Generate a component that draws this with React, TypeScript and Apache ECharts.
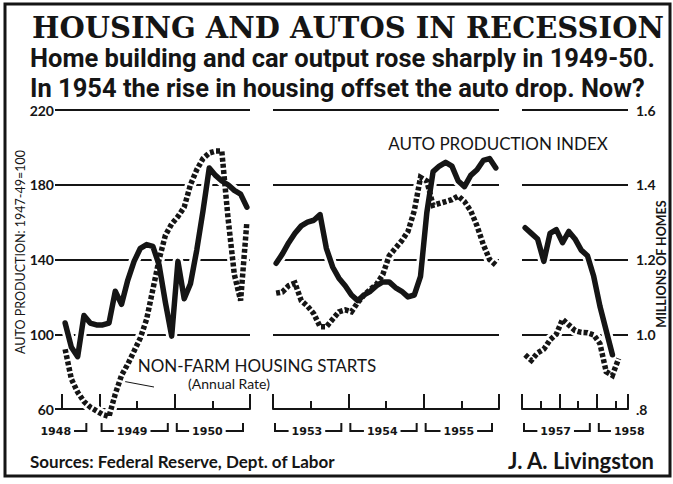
import React, { useEffect, useRef } from "react";
import * as echarts from "echarts";

// ---------- DATA ----------
// Panel 1: monthly, Jul 1948 – Dec 1950
const autoP1 = [106, 93, 88, 110, 106, 105, 105, 106, 123, 116, 129, 139, 146, 148, 147, 137, 117, 99, 139, 119, 127, 145, 166, 189, 185, 182, 180, 177, 175, 168];
const housingP1 = [0.96, 0.88, 0.845, 0.82, 0.805, 0.795, 0.785, 0.78, 0.84, 0.89, 0.92, 0.955, 0.99, 1.04, 1.12, 1.2, 1.265, 1.295, 1.315, 1.34, 1.4, 1.44, 1.47, 1.485, 1.49, 1.49, 1.31, 1.16, 1.09, 1.3];
// Panel 2: monthly, Jan 1953 – Dec 1955
const autoP2 = [138, 143, 149, 154, 158, 160, 161, 164, 146, 136, 130, 126, 121, 118, 121, 123, 126, 128, 128, 125, 123, 120, 121, 131, 165, 187, 190, 192, 190, 182, 179, 185, 188, 193, 194, 189];
const housingP2 = [1.11, 1.113, 1.13, 1.137, 1.09, 1.075, 1.055, 1.02, 1.02, 1.04, 1.06, 1.065, 1.06, 1.085, 1.105, 1.12, 1.134, 1.16, 1.21, 1.23, 1.25, 1.275, 1.33, 1.42, 1.41, 1.345, 1.35, 1.355, 1.36, 1.37, 1.355, 1.33, 1.29, 1.24, 1.2, 1.185];
// Panel 3: monthly, Jan 1957 – early 1958
const autoP3 = [157, 154, 151, 139, 154, 156, 149, 155, 151, 145, 142, 131, 115, 102, 89];
const housingP3 = [0.945, 0.93, 0.95, 0.96, 0.985, 1.0, 1.04, 1.025, 1.01, 1.005, 1.004, 0.998, 0.975, 0.9, 0.89, 0.935];

const monthsP1 = 30;
const monthsP2 = 36;
const monthsP3 = 17;

const yearsP1 = ["1948", "1949", "1950"];
const yearsP2 = ["1953", "1954", "1955"];
const yearsP3 = ["1957", "1958"];

const autoAxis = { min: 60, max: 220, interval: 40 };
const homesAxis = { min: 0.8, max: 1.6, interval: 0.2 };

const titleText = "HOUSING AND AUTOS IN RECESSION";
const subtitle1 = "Home building and car output rose sharply in 1949-50.";
const subtitle2 = "In 1954 the rise in housing offset the auto drop. Now?";
const autoSeriesLabel = "AUTO PRODUCTION INDEX";
const housingSeriesLabel = "NON-FARM HOUSING STARTS";
const housingSeriesNote = "(Annual Rate)";
const leftAxisName = "AUTO PRODUCTION: 1947-49=100";
const rightAxisName = "MILLIONS OF HOMES";
const sourceText = "Sources: Federal Reserve, Dept. of Labor";
const bylineText = "J. A. Livingston";

// ---------- STYLE / LAYOUT ----------
const INK = "#151515";
const SANS = "Lato, 'DejaVu Sans', sans-serif";
const HEAD = "Roboto, Lato, sans-serif";
const SERIF = "'DejaVu Serif', serif";
const WIDE = "'DejaVu Sans', sans-serif";

const gridBoxes = [
  { left: 62, top: 110, width: 188, height: 299 },
  { left: 273, top: 110, width: 226, height: 299 },
  { left: 522, top: 110, width: 106, height: 299 },
];

type YearSpan = { label: string; start: number; end: number; at: number; openLeft: boolean; openRight: boolean };
type Panel = {
  auto: number[];
  housing: number[];
  months: number;
  major: number[];
  minor: number[];
  years: YearSpan[];
};

const span = (label: string, start: number, end: number, at: number, openLeft = false, openRight = false): YearSpan => ({
  label,
  start,
  end,
  at,
  openLeft,
  openRight,
});

const panels: Panel[] = [
  {
    auto: autoP1,
    housing: housingP1,
    months: monthsP1,
    major: [0, 6, 18, 30],
    minor: [12, 24],
    years: [
      span(yearsP1[0], -2, 5, -1, true, false),
      span(yearsP1[1], 6, 18, 11.2),
      span(yearsP1[2], 18, 30, 23.2),
    ],
  },
  {
    auto: autoP2,
    housing: housingP2,
    months: monthsP2,
    major: [0, 12, 24, 36],
    minor: [6, 18, 30],
    years: [span(yearsP2[0], 0, 12, 5.4), span(yearsP2[1], 12, 24, 17.4), span(yearsP2[2], 24, 36, 29.6)],
  },
  {
    auto: autoP3,
    housing: housingP3,
    months: monthsP3,
    major: [0, 6, 12, 17],
    minor: [3, 9, 15],
    years: [span(yearsP3[0], 0, 12, 5.4), span(yearsP3[1], 12, 18, 17.2, false, true)],
  },
];

function buildOption(): any {
  const grid: any[] = [];
  const xAxis: any[] = [];
  const yAxis: any[] = [];
  const series: any[] = [];

  panels.forEach((p, i) => {
    grid.push({ ...gridBoxes[i], containLabel: false, outerBoundsMode: "none" });

    xAxis.push({
      type: "value",
      gridIndex: i,
      min: 0,
      max: p.months,
      position: "bottom",
      axisLine: { show: true, onZero: false, lineStyle: { color: INK, width: 2 } },
      axisTick: {
        show: true,
        inside: true,
        length: 15,
        customValues: p.major,
        lineStyle: { color: INK, width: 2 },
      },
      axisLabel: { show: false },
      splitLine: { show: false },
    });
    xAxis.push({
      type: "value",
      gridIndex: i,
      min: 0,
      max: p.months,
      position: "bottom",
      axisLine: { show: false, onZero: false },
      axisTick: {
        show: true,
        inside: true,
        length: 8,
        customValues: p.minor,
        lineStyle: { color: INK, width: 2 },
      },
      axisLabel: { show: false },
      splitLine: { show: false },
    });

    yAxis.push({
      type: "value",
      gridIndex: i,
      position: "left",
      ...autoAxis,
      axisLine: { show: false },
      axisTick: { show: i === 0, length: 7, lineStyle: { color: INK, width: 2 } },
      axisLabel: {
        show: i === 0,
        margin: 8,
        color: INK,
        fontFamily: SANS,
        fontSize: 14,
        fontWeight: "bold",
        lineHeight: 13,
      },
      splitLine: { show: true, lineStyle: { color: INK, width: 2 } },
    });
    yAxis.push({
      type: "value",
      gridIndex: i,
      position: "right",
      ...homesAxis,
      axisLine: { show: false },
      axisTick: { show: i === 2, length: 6, lineStyle: { color: INK, width: 2 } },
      axisLabel: {
        show: i === 2,
        margin: 8,
        color: INK,
        fontFamily: SANS,
        fontSize: 14,
        fontWeight: "bold",
        lineHeight: 13,
        formatter: (v: number) => (Math.abs(v - 0.8) < 1e-6 ? ".8" : v.toFixed(1)),
      },
      splitLine: { show: false },
    });

    const autoData = p.auto.map((v, k) => [k + 0.5, v]);
    const housingData = p.housing.map((v, k) => [k + 0.5, v]);

    const common = {
      type: "line",
      xAxisIndex: 2 * i,
      symbol: "none",
      silent: true,
      clip: false,
      smooth: false,
    };
    // white halos that break the rules, as in the printed chart
    series.push({ ...common, yAxisIndex: 2 * i, data: autoData, z: 2, lineStyle: { color: "#fff", width: 11, join: "round" } });
    series.push({ ...common, yAxisIndex: 2 * i + 1, data: housingData, z: 2, lineStyle: { color: "#fff", width: 11, join: "round" } });
    series.push({
      ...common,
      name: autoSeriesLabel,
      yAxisIndex: 2 * i,
      data: autoData,
      z: 4,
      lineStyle: { color: INK, width: 5.5, join: "round", cap: "round" },
    });
    series.push({
      ...common,
      name: housingSeriesLabel,
      yAxisIndex: 2 * i + 1,
      data: housingData,
      z: 5,
      lineStyle: { color: INK, width: 5.5, type: [4, 2.2], cap: "butt", join: "miter" },
    });

    // year brackets  └── 1949 ──┘  under each panel
    const years = p.years;
    series.push({
      type: "custom",
      coordinateSystem: "cartesian2d",
      xAxisIndex: 2 * i,
      yAxisIndex: 2 * i,
      silent: true,
      clip: false,
      z: 6,
      encode: { x: [0, 1, 2], y: 3 },
      data: years.map((y) => [y.start, y.end, y.at, autoAxis.min]),
      renderItem: (params: any, api: any) => {
        const y = years[params.dataIndex];
        const base = api.coord([api.value(0), api.value(3)]);
        const xs = base[0] + 2;
        const xe = api.coord([api.value(1), api.value(3)])[0] - 7;
        const xc = api.coord([api.value(2), api.value(3)])[0];
        const yMid = base[1] + 22;
        const yTop = yMid - 8;
        const pts: number[][] = [];
        if (!y.openLeft) pts.push([xs, yTop]);
        pts.push([xs, yMid]);
        pts.push([xe, yMid]);
        if (!y.openRight) pts.push([xe, yTop]);
        return {
          type: "group",
          children: [
            {
              type: "polyline",
              shape: { points: pts },
              style: { stroke: INK, lineWidth: 2, fill: null },
            },
            {
              type: "text",
              x: xc,
              y: yMid,
              z2: 10,
              style: {
                text: y.label,
                align: "center",
                verticalAlign: "middle",
                font: `bold 11px ${WIDE}`,
                fill: INK,
                backgroundColor: "#fff",
                padding: [1, 3],
              },
            },
          ],
        };
      },
    });
  });

  const graphic: any[] = [
    {
      type: "rect",
      shape: { x: 5, y: 4, width: 665, height: 472 },
      style: { fill: "none", stroke: INK, lineWidth: 3 },
      silent: true,
    },
    {
      type: "text",
      x: 32,
      y: 27.5,
      style: { text: titleText, font: `bold 29px ${SERIF}`, lineHeight: 28, fill: INK, align: "left", verticalAlign: "middle" },
    },
    {
      type: "text",
      x: 30,
      y: 58,
      style: { text: subtitle1, font: `bold 25.5px ${HEAD}`, lineHeight: 24, fill: INK, align: "left", verticalAlign: "middle" },
    },
    {
      type: "text",
      x: 30,
      y: 88,
      style: { text: subtitle2, font: `bold 25.5px ${HEAD}`, lineHeight: 22, fill: INK, align: "left", verticalAlign: "middle" },
    },
    {
      type: "text",
      x: 498,
      y: 143,
      style: { text: autoSeriesLabel, font: `17px ${SANS}`, lineHeight: 16, fill: INK, align: "center", verticalAlign: "middle" },
    },
    {
      type: "text",
      x: 257,
      y: 365,
      style: { text: housingSeriesLabel, font: `17px ${SANS}`, lineHeight: 14, fill: INK, align: "center", verticalAlign: "middle" },
    },
    {
      type: "text",
      x: 229,
      y: 383,
      style: { text: housingSeriesNote, font: `14px ${SANS}`, lineHeight: 12, fill: INK, align: "center", verticalAlign: "middle" },
    },
    {
      type: "line",
      shape: { x1: 122, y1: 381, x2: 154, y2: 387 },
      style: { stroke: INK, lineWidth: 1 },
    },
    {
      type: "text",
      x: 20,
      y: 252,
      rotation: Math.PI / 2,
      style: { text: leftAxisName, font: `12.5px ${SANS}`, fill: INK, align: "center", verticalAlign: "middle" },
    },
    {
      type: "text",
      x: 661,
      y: 264,
      rotation: Math.PI / 2,
      style: { text: rightAxisName, font: `bold 12.5px ${SANS}`, fill: INK, align: "center", verticalAlign: "middle" },
    },
    {
      type: "text",
      x: 30,
      y: 461,
      style: { text: sourceText, font: `bold 17px ${SANS}`, fill: INK, align: "left", verticalAlign: "middle" },
    },
    {
      type: "text",
      x: 654,
      y: 460,
      style: { text: bylineText, font: `bold 22px ${SANS}`, fill: INK, align: "right", verticalAlign: "middle" },
    },
  ];

  return {
    animation: false,
    backgroundColor: "#ffffff",
    grid,
    xAxis,
    yAxis,
    series,
    graphic,
  };
}

export default function App() {
  const ref = useRef<HTMLDivElement>(null);
  useEffect(() => {
    if (!ref.current) return;
    const chart = echarts.init(ref.current, undefined, { renderer: "svg" });
    chart.setOption(buildOption());
    return () => chart.dispose();
  }, []);
  return (
    <div
      ref={ref}
      style={{ position: "fixed", left: 0, top: 0, width: 673, height: 484, background: "#fff" }}
    />
  );
}
